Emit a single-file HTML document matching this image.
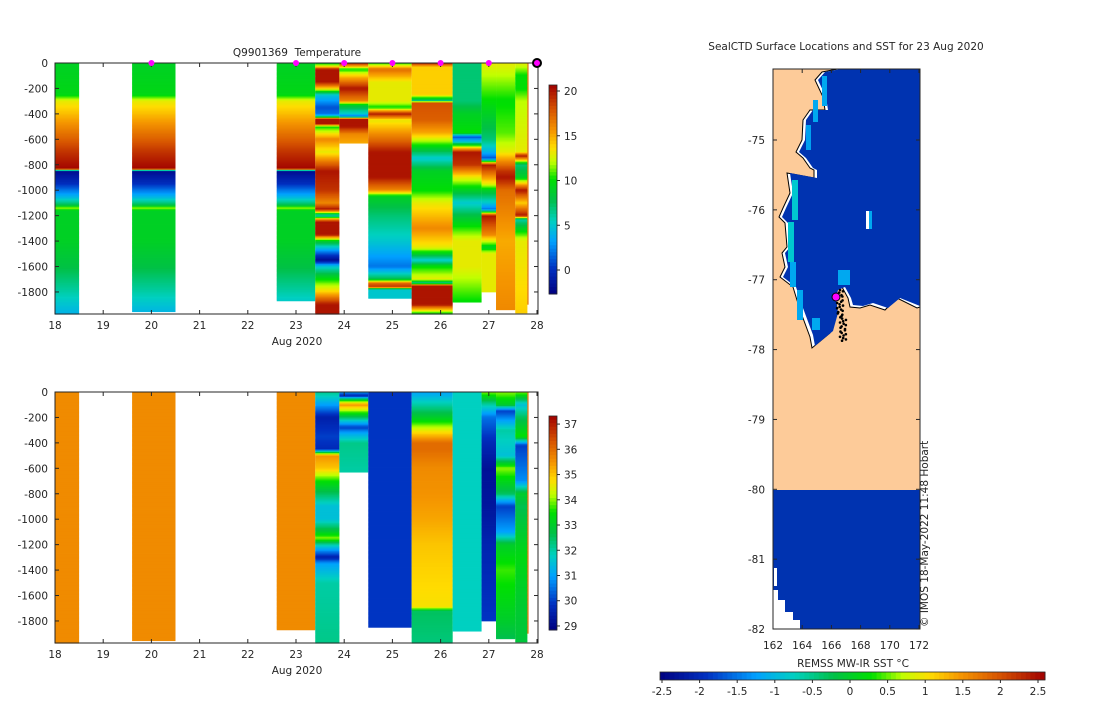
<!DOCTYPE html>
<html><head><meta charset="utf-8"><style>
body{margin:0;background:#fff;}
svg text{font-family:"DejaVu Sans","Liberation Sans",sans-serif;font-size:10.5px;fill:#262626;}
</style></head><body>
<svg id="s" width="1100" height="700" xmlns="http://www.w3.org/2000/svg">
<g id="top"></g>
<g id="bot"></g>
<g id="map"></g>
</svg>
<script>
// ---- data ----
const colStart=[18.0,19.6,22.6,23.4,23.9,24.5,25.4,26.25,26.85,27.15,27.55];
const colEnd=[18.5,20.5,23.4,23.9,24.5,25.4,26.25,26.85,27.15,27.55,27.8];
const colMaxDepth=[1975,1955,1870,1975,630,1850,1975,1880,1800,1940,1965];
const tempA=[[0,9],[250,9.5],[300,13],[500,16],[700,19],[830,20.5],[840,14],[850,-2],[950,0],[1050,4],[1120,8],[1140,12],[1160,9],[1400,9],[1600,8],[1800,6],[1975,4]];
const tempProfiles=[tempA,tempA,tempA,
[[0,9],[30,14],[50,20],[150,20],[200,14],[250,5],[350,1],[400,2],[420,6],[440,20],[480,20],[500,10],[600,16],[700,13],[850,20],[1000,19],[1100,16],[1150,20],[1200,5],[1230,16],[1250,20],[1350,20],[1400,9],[1500,1],[1550,-2],[1600,5],[1700,10],[1800,14],[1900,20],[1975,20]],
[[0,20],[50,10],[100,14],[200,20],[300,16],[330,9],[400,5],[420,2],[440,20],[500,20],[560,16],[630,15]],
[[0,10],[50,17],[150,13],[300,13],[350,10],[400,20],[450,13],[600,17],[700,20],[900,20],[1000,16],[1050,9],[1200,7],[1400,5],[1600,2],[1700,8],[1730,17],[1760,19],[1780,5],[1850,5]],
[[0,20],[30,14],[250,14],[300,6],[310,18],[450,17.5],[550,15],[650,10],[750,5],[850,9],[1000,10],[1100,13],[1300,16],[1450,13],[1500,9],[1550,5],[1600,10],[1700,13],[1730,6],[1750,20],[1900,20],[1975,9]],
[[0,7],[300,7],[400,9],[550,10],[580,1],[620,5],[700,20],[800,19],[900,13],[1000,9],[1100,5],[1200,8],[1400,13],[1600,13],[1880,10]],
[[0,13],[200,11],[400,9],[600,7],[700,4],[750,1],[800,20],[950,13],[1000,9],[1100,5],[1150,2],[1200,20],[1350,16],[1450,9],[1500,13],[1800,13]],
[[0,13],[300,10],[550,11],[700,13],[850,19],[900,20],[1000,17],[1200,16],[1400,15],[1940,16]],
[[0,13],[100,10],[200,10],[300,12],[700,13],[730,20],[800,7],[900,9],[1000,20],[1100,14],[1200,20],[1230,6],[1300,9],[1400,13],[1965,14]]];
const salA=[[0,35.6],[1975,35.6]];
const salProfiles=[salA,salA,salA,
[[0,32.2],[100,31],[200,29.5],[350,30],[450,29.7],[480,33.5],[500,35.5],[600,35],[700,33.5],[800,32.5],[900,31.5],[1000,31.5],[1100,33],[1150,34],[1200,32],[1300,29.5],[1350,31],[1500,32],[1975,32.2]],
[[0,31],[30,29.5],[60,33],[100,35.5],[200,32.5],[280,30],[320,31],[400,32.2],[630,32]],
[[0,29.9],[1850,29.9]],
[[0,31],[100,32],[200,33],[300,34.5],[400,36],[450,36],[600,35.6],[800,35.5],[1000,35.3],[1200,35],[1500,34.8],[1690,34.7],[1710,33.5],[1720,32.5],[1975,32.3]],
[[0,31.8],[1880,31.8]],
[[0,34],[100,32],[200,30.5],[400,29.7],[600,29.2],[900,29.3],[1200,29.6],[1800,29.9]],
[[0,34],[100,33],[150,30],[300,32],[500,31.5],[600,34],[800,32.5],[900,30],[1100,31],[1200,33],[1400,33.7],[1800,33],[1940,32.6]],
[[0,34],[100,31.5],[200,32.5],[350,33.5],[420,30],[700,30.8],[800,33],[900,32.6],[1300,33.3],[1600,33],[1965,32.8]]];
const markerDays=[20,23,24,25,26,27];
const xTicks=[18,19,20,21,22,23,24,25,26,27,28];
const yTicks=[0,-200,-400,-600,-800,-1000,-1200,-1400,-1600,-1800];
const tempCbTicks=[20,15,10,5,0];
const salCbTicks=[37,36,35,34,33,32,31,30,29];
const mapLatTicks=[-75,-76,-77,-78,-79,-80,-81,-82];
const mapLonTicks=[162,164,166,168,170,172];
const sstTicks=[-2.5,-2,-1.5,-1,-0.5,0,0.5,1,1.5,2,2.5];

// ---- helpers ----
const NS="http://www.w3.org/2000/svg";
function mk(p,t,a,txt){const e=document.createElementNS(NS,t);for(const k in a)e.setAttribute(k,a[k]);if(txt!==undefined)e.textContent=txt;p.appendChild(e);return e;}
const cmStops=[[0,[0,0,128]],[0.12,[0,48,192]],[0.25,[0,160,255]],[0.35,[0,208,192]],[0.45,[0,192,72]],[0.55,[0,224,0]],[0.63,[192,255,0]],[0.7,[255,220,0]],[0.78,[245,150,0]],[0.88,[215,85,0]],[1,[160,0,0]]];
function cmap(t){t=Math.max(0,Math.min(1,t));for(let i=1;i<cmStops.length;i++){if(t<=cmStops[i][0]){const a=cmStops[i-1],b=cmStops[i],f=(t-a[0])/(b[0]-a[0]);const c=a[1].map((v,j)=>Math.round(v+(b[1][j]-v)*f));return `rgb(${c})`;}}return 'rgb(160,0,0)';}
function interp(p,d){if(d<=p[0][0])return p[0][1];for(let i=1;i<p.length;i++){if(d<=p[i][0]){const f=(d-p[i-1][0])/(p[i][0]-p[i-1][0]||1);return p[i-1][1]+(p[i][1]-p[i-1][1])*f;}}return p[p.length-1][1];}
const xScale=d=>55+(d-18)*48.2;

function panel(g,y0,profiles,cmin,cmax,cbTop,cbBot,cbTicks,showMarkers,title){
  const yS=v=>y0+(-v)*0.1272;
  for(let c=0;c<colStart.length;c++){
    const x1=xScale(colStart[c]),x2=xScale(colEnd[c]);
    for(let d=0;d<colMaxDepth[c];d+=10){
      const v=interp(profiles[c],d+5);
      const r=mk(g,'rect',{x:x1,y:yS(-d),width:x2-x1,height:Math.min(10,colMaxDepth[c]-d)*0.1272+0.4,fill:cmap((v-cmin)/(cmax-cmin))});
      
      
    }
  }
  mk(g,'rect',{x:xScale(27.8),y:yS(0),width:1.2,height:1900*0.1272,fill:'#e07000',});
  const h=251;
  mk(g,'rect',{x:55,y:y0,width:483,height:h,fill:'none',stroke:'#262626','stroke-width':1,});
  xTicks.forEach(t=>{const x=xScale(t);mk(g,'line',{x1:x,x2:x,y1:y0+h,y2:y0+h-4,stroke:'#262626'});mk(g,'line',{x1:x,x2:x,y1:y0,y2:y0+4,stroke:'#262626'});
    const e=mk(g,'text',{x:x,y:y0+h+15,'text-anchor':'middle'},t);});
  yTicks.forEach(t=>{const y=yS(t);mk(g,'line',{x1:55,x2:59,y1:y,y2:y,stroke:'#262626'});mk(g,'line',{x1:538,x2:534,y1:y,y2:y,stroke:'#262626'});
    const e=mk(g,'text',{x:48,y:y+4,'text-anchor':'end'},t);});
  mk(g,'text',{x:297,y:y0+h+31,'text-anchor':'middle',},'Aug 2020');
  if(title)mk(g,'text',{x:297,y:y0-7,'text-anchor':'middle','font-size':'11.5','style':'white-space:pre',},title);
  if(showMarkers){markerDays.forEach(d=>{const m=mk(g,'circle',{cx:xScale(d),cy:y0,r:3,fill:'#ff00ff'});});
    mk(g,'circle',{cx:537,cy:y0,r:4,fill:'#ff00ff',stroke:'#000','stroke-width':2,});}
  const cb=mk(g,'g',{});
  const n=60;for(let i=0;i<n;i++){const y=cbTop+(cbBot-cbTop)*i/n;mk(cb,'rect',{x:549,y:y,width:8,height:(cbBot-cbTop)/n+0.5,fill:cmap(1-(i+0.5)/n)});}
  mk(cb,'rect',{x:549,y:cbTop,width:8,height:cbBot-cbTop,fill:'none',stroke:'#262626','stroke-width':0.8});
  cbTicks.forEach(t=>{const y=cbBot-(t-cmin)/(cmax-cmin)*(cbBot-cbTop);mk(cb,'line',{x1:557,x2:560,y1:y,y2:y,stroke:'#262626'});
    const e=mk(cb,'text',{x:564,y:y+4},t);});
}
panel(document.getElementById('top'),63,tempProfiles,-2.68,20.67,85,294,tempCbTicks,true,'Q9901369  Temperature');
panel(document.getElementById('bot'),392,salProfiles,28.84,37.32,416,630,salCbTicks,false,null);

// ---- map ----
const mg=document.getElementById('map');
const lonS=l=>773+(l-162)*14.6, latS=l=>140+(-75-l)*69.86;
mk(mg,'rect',{x:773,y:69,width:147,height:560,fill:'#fdcb99',});
const coast=[[838,69],[822,72],[815,80],[823,97],[825,110],[810,110],[803,120],[802,140],[796,152],[803,158],[810,168],[814,170],[814,178],[787,173],[790,193],[783,208],[779,217],[785,223],[787,247],[782,253],[785,267],[780,277],[793,287],[800,310],[810,337],[812,348],[830,333],[835,315],[833,300],[835,290],[842,287],[848,298],[850,307],[860,308],[870,305],[885,310],[897,298],[917,308],[920,307],[920,69]];
mk(mg,'polygon',{points:coast.map(p=>p.join(',')).join(' '),fill:'#fff',stroke:'#000','stroke-width':1,});
const inner=coast.map(p=>[p[0]<918?p[0]+3:p[0],p[1]<300?p[1]:p[1]-2]);
mk(mg,'polygon',{points:inner.map(p=>p.join(',')).join(' '),fill:'#0033b0',});
[[822,76,5,30,'#00a8f0'],[813,100,5,22,'#00a8f0'],[806,125,5,25,'#00a0f0'],[792,180,6,40,'#00c8d0'],[788,222,6,40,'#00c8d0'],[790,262,6,25,'#00a8f0'],[797,290,6,30,'#00a8f0'],[812,318,8,12,'#00a8f0'],[838,270,12,15,'#00a8f0'],[866,211,4,18,'#fff'],[869,211,3,18,'#00a8f0']].forEach(r=>{const e=mk(mg,'rect',{x:r[0],y:r[1],width:r[2],height:r[3],fill:r[4]});});
mk(mg,'rect',{x:773,y:490,width:147,height:139,fill:'#0033b0',});
mk(mg,'polygon',{points:'773,590 778,590 778,600 785,600 785,612 793,612 793,620 800,620 800,629 773,629',fill:'#fff',});
mk(mg,'rect',{x:774,y:568,width:3,height:18,fill:'#fff'});
for(let i=0;i<40;i++){const y=290+i*1.3,x=840+Math.sin(i*1.7)*3+(i>20?3:0);mk(mg,'circle',{cx:x,cy:y,r:1.3,fill:'#000'});}
mk(mg,'circle',{cx:836,cy:297,r:4,fill:'#ff00ff',stroke:'#000','stroke-width':1,});
mk(mg,'rect',{x:773,y:69,width:147,height:560,fill:'none',stroke:'#262626',});
mapLatTicks.forEach(t=>{const y=latS(t);mk(mg,'line',{x1:773,x2:777,y1:y,y2:y,stroke:'#262626'});mk(mg,'line',{x1:920,x2:916,y1:y,y2:y,stroke:'#262626'});
  const e=mk(mg,'text',{x:765,y:y+4,'text-anchor':'end'},t);});
mapLonTicks.forEach(t=>{const x=lonS(t);mk(mg,'line',{x1:x,x2:x,y1:629,y2:625,stroke:'#262626'});mk(mg,'line',{x1:x,x2:x,y1:69,y2:73,stroke:'#262626'});
  const e=mk(mg,'text',{x:x,y:649,'text-anchor':'middle'},t);});
mk(mg,'text',{x:846,y:50,'text-anchor':'middle','font-size':'11',},'SealCTD Surface Locations and SST for 23 Aug 2020');
mk(mg,'text',{x:0,y:0,transform:'translate(928,627) rotate(-90)','font-size':'9.5',},'© IMOS 18-May-2022 11:48 Hobart');
const hc=mk(mg,'g',{});
const sx=v=>662+(v+2.5)*75.2;
for(let i=0;i<80;i++){const x=660+385*i/80;mk(hc,'rect',{x:x,y:672,width:385/80+0.5,height:8,fill:cmap((i+0.5)/80)});}
mk(hc,'rect',{x:660,y:672,width:385,height:8,fill:'none',stroke:'#262626','stroke-width':0.8});
sstTicks.forEach(t=>{const x=sx(t);mk(hc,'line',{x1:x,x2:x,y1:680,y2:683,stroke:'#262626'});
  const e=mk(hc,'text',{x:x,y:695,'text-anchor':'middle'},t);});
mk(hc,'text',{x:853,y:667,'text-anchor':'middle',},'REMSS MW-IR SST °C');
</script>
</body></html>
